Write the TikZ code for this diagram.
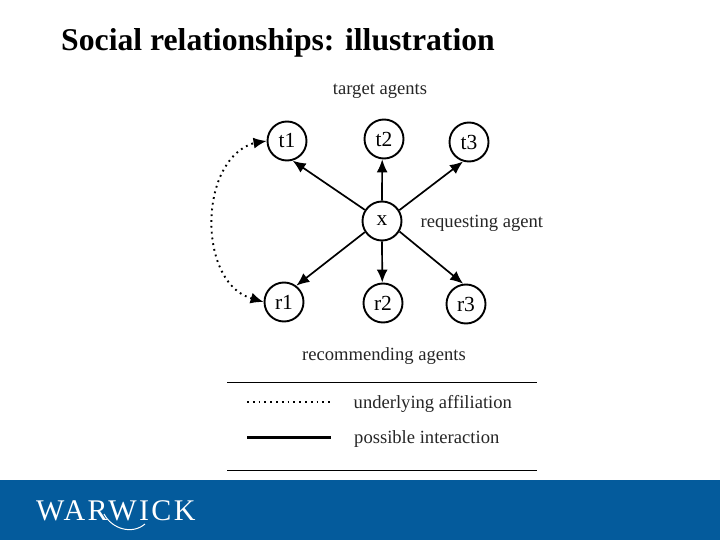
\documentclass[tikz,border=0pt]{standalone}
\usepackage{fontspec}
\setmainfont{Liberation Serif}
\usetikzlibrary{arrows.meta}
\definecolor{wblue}{HTML}{045B9C}
\tikzset{
 agent/.style={circle,draw=black,line width=1.9pt,minimum size=39pt,inner sep=0pt,font=\fontsize{21.5}{22}\selectfont,fill=white},
 lbl/.style={inner sep=0pt,font=\fontsize{18.6}{20}\selectfont,text=black!85},
 link/.style={line width=1.7pt,-{Latex[length=13pt,width=11pt]}},
 affil/.style={line width=1.9pt,dash pattern=on 1.8pt off 4pt},
 rulel/.style={line width=0.9pt},
 title/.style={inner sep=0pt,anchor=west,font=\bfseries\fontsize{31.7}{34}\selectfont},
 logo/.style={inner sep=0pt,anchor=west,text=white,font=\fontsize{30}{34}\selectfont\addfontfeatures{LetterSpace=8}},
}
\begin{document}
\begin{tikzpicture}[x=1pt,y=-1pt]
\useasboundingbox (0,0) rectangle (720,540);
\fill[white] (0,0) rectangle (720,540);
\fill[wblue] (0,480) rectangle (720,540);
\node[title] (ttl) at (61,42.5) {Social relationships: illustration};
\node[lbl] (ta) at (380,91) {target agents};
\node[lbl,anchor=west] (ra) at (420.5,223) {requesting agent};
\node[lbl] (rec) at (384,356) {recommending agents};
\node[agent] (t1) at (287,141) {t1};
\node[agent] (t2) at (384,139) {t2};
\node[agent] (t3) at (469,142) {t3};
\node[agent] (x) at (382,221) {x};
\node[agent] (r1) at (284,302) {r1};
\node[agent] (r2) at (383,303) {r2};
\node[agent] (r3) at (466,304) {r3};
\draw[link] (x.147) -- (t1.-74);
\draw[link] (x.90) -- (t2.-95);
\draw[link] (x.32) -- (t3.-107);
\draw[link] (x.213) -- (r1.53);
\draw[link] (x.-90) -- (r2.92);
\draw[link] (x.-31) -- (r3.98);
\coordinate (ra1) at (252,298.5);
\coordinate (ra2) at (254,143);
\draw[affil] (ra1) .. controls (197.5,284) and (197.5,160) .. (ra2);
\draw[line width=1.7pt,-{Latex[length=13pt,width=11pt]}] (ra1) -- (r1.west);
\draw[line width=1.7pt,-{Latex[length=13pt,width=11pt]}] (ra2) -- (t1.west);
\coordinate (la) at (227,382); \coordinate (lb) at (537,382);
\coordinate (lc) at (227,470); \coordinate (ld) at (537,470);
\draw[rulel] (la) -- (lb);
\draw[rulel] (lc) -- (ld);
\coordinate (u1) at (247,402); \coordinate (u2) at (330,402);
\coordinate (p1) at (247,437); \coordinate (p2) at (331,437);
\draw[affil] (u1) -- (u2);
\draw[line width=3pt] (p1) -- (p2);
\node[lbl,anchor=west] (ua) at (353.5,404) {underlying affiliation};
\node[lbl,anchor=west] (pi) at (354,439) {possible interaction};
\node[logo] (wk) at (36,511) {WARWICK};
\draw[white,line width=1pt] (104,514) .. controls (112,529) and (132,535) .. (145,524);
\end{tikzpicture}
\end{document}
